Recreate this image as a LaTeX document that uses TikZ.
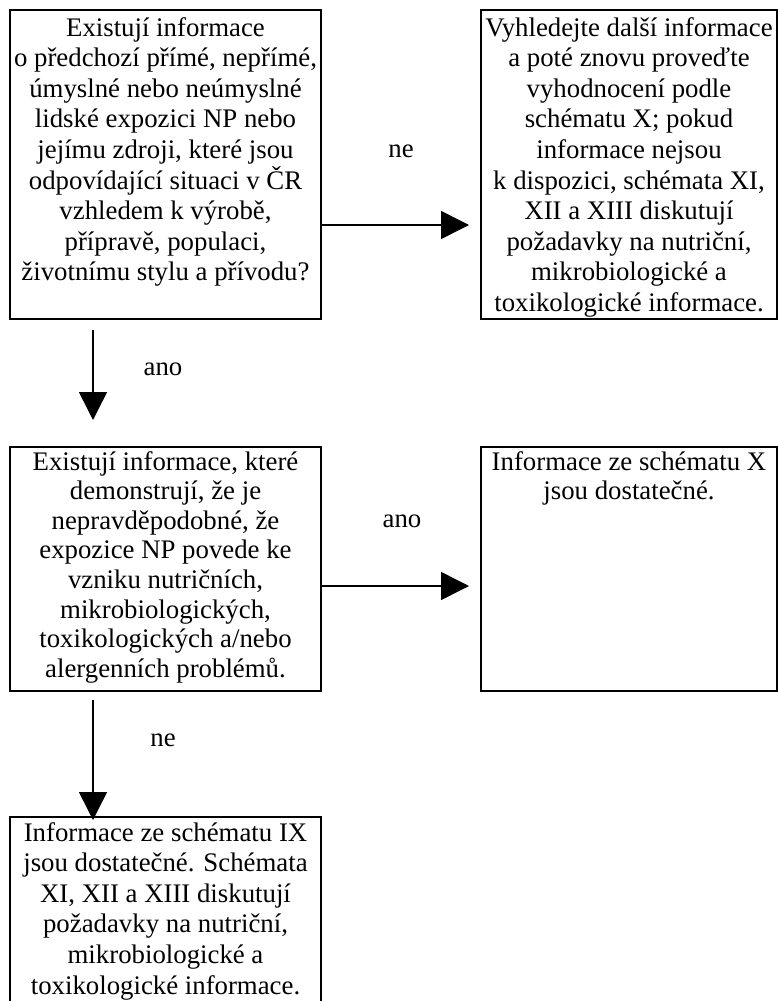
\documentclass[tikz,border=0pt]{standalone}
\usepackage{fontspec}
\setmainfont{Liberation Serif}
\usetikzlibrary{arrows.meta,calc}
\begin{document}
\begin{tikzpicture}[x=1pt,y=-1pt,
  every node/.style={font=\fontsize{26.8}{30.6}\selectfont},
  box/.style={draw, line width=2.6pt, outer sep=0pt, inner sep=0pt},
  txt/.style={inner sep=0pt, anchor=base},
  lbl/.style={inner sep=0pt, anchor=base},
  arr/.style={line width=1.5pt, -{Triangle[length=28pt,width=28pt]}}]
\useasboundingbox (0,0) rectangle (778,1001);
\clip (0,0) rectangle (778,1001);
% boxes
\node[box, minimum width=311pt, minimum height=309pt] (b1) at (165.5,164.5) {};
\node[box, minimum width=296pt, minimum height=309pt] (b2) at (629,164.5) {};
\node[box, minimum width=311pt, minimum height=244pt] (b3) at (165.5,569) {};
\node[box, minimum width=296pt, minimum height=244pt] (b4) at (629,569) {};
\node[box, minimum width=311pt, minimum height=213pt] (b5) at (165.5,923.5) {};
% texts
\node[txt] (t1) at (165.5,36) {\parbox[t]{340pt}{\centering
Existují informace\\
o předchozí přímé, nepřímé,\\
úmyslné nebo neúmyslné\\
lidské expozici NP nebo\\
jejímu zdroji, které jsou\\
odpovídající situaci v ČR\\
vzhledem k výrobě,\\
přípravě, populaci,\\
životnímu stylu a přívodu?}};
\node[txt] (t2) at (629,36) {\parbox[t]{340pt}{\centering
Vyhledejte další informace\\
a poté znovu proveďte\\
vyhodnocení podle\\
schématu X; pokud\\
informace nejsou\\
k dispozici, schémata XI,\\
XII a XIII diskutují\\
požadavky na nutriční,\\
mikrobiologické a\\
toxikologické informace.}};
\node[txt] (t3) at (165.5,470) {\parbox[t]{340pt}{\fontsize{26.8}{29.6}\selectfont\centering
Existují informace, které\\
demonstrují, že je\\
nepravděpodobné, že\\
expozice NP povede ke\\
vzniku nutričních,\\
mikrobiologických,\\
toxikologických a/nebo\\
alergenních problémů.}};
\node[txt] (t4) at (629,470) {\parbox[t]{340pt}{\fontsize{26.8}{29.6}\selectfont\centering
Informace ze schématu X\\
jsou dostatečné.}};
\node[txt] (t5) at (165.5,841) {\parbox[t]{340pt}{\centering
Informace ze schématu IX\\
jsou dostatečné. Schémata\\
XI, XII a XIII diskutují\\
požadavky na nutriční,\\
mikrobiologické a\\
toxikologické informace.}};
% connectors
\draw[arr, shorten >=12pt] ($(b1.north east)+(0,215)$) -- ($(b2.north west)+(0,215)$);
\draw[arr, shorten <=11pt, shorten >=27pt] ($(b1.south west)+(83,0)$) -- ($(b3.north west)+(83,0)$);
\draw[arr, shorten >=12pt] ($(b3.north east)+(0,139)$) -- ($(b4.north west)+(0,139)$);
\draw[arr, shorten <=9pt, shorten >=-3pt] ($(b3.south west)+(83,0)$) -- ($(b5.north west)+(83,0)$);
% labels
\node[lbl] (l1) at (401,157) {ne};
\node[lbl] (l2) at (163,375) {ano};
\node[lbl] (l3) at (402,527) {ano};
\node[lbl] (l4) at (163,746) {ne};
\end{tikzpicture}
\end{document}
